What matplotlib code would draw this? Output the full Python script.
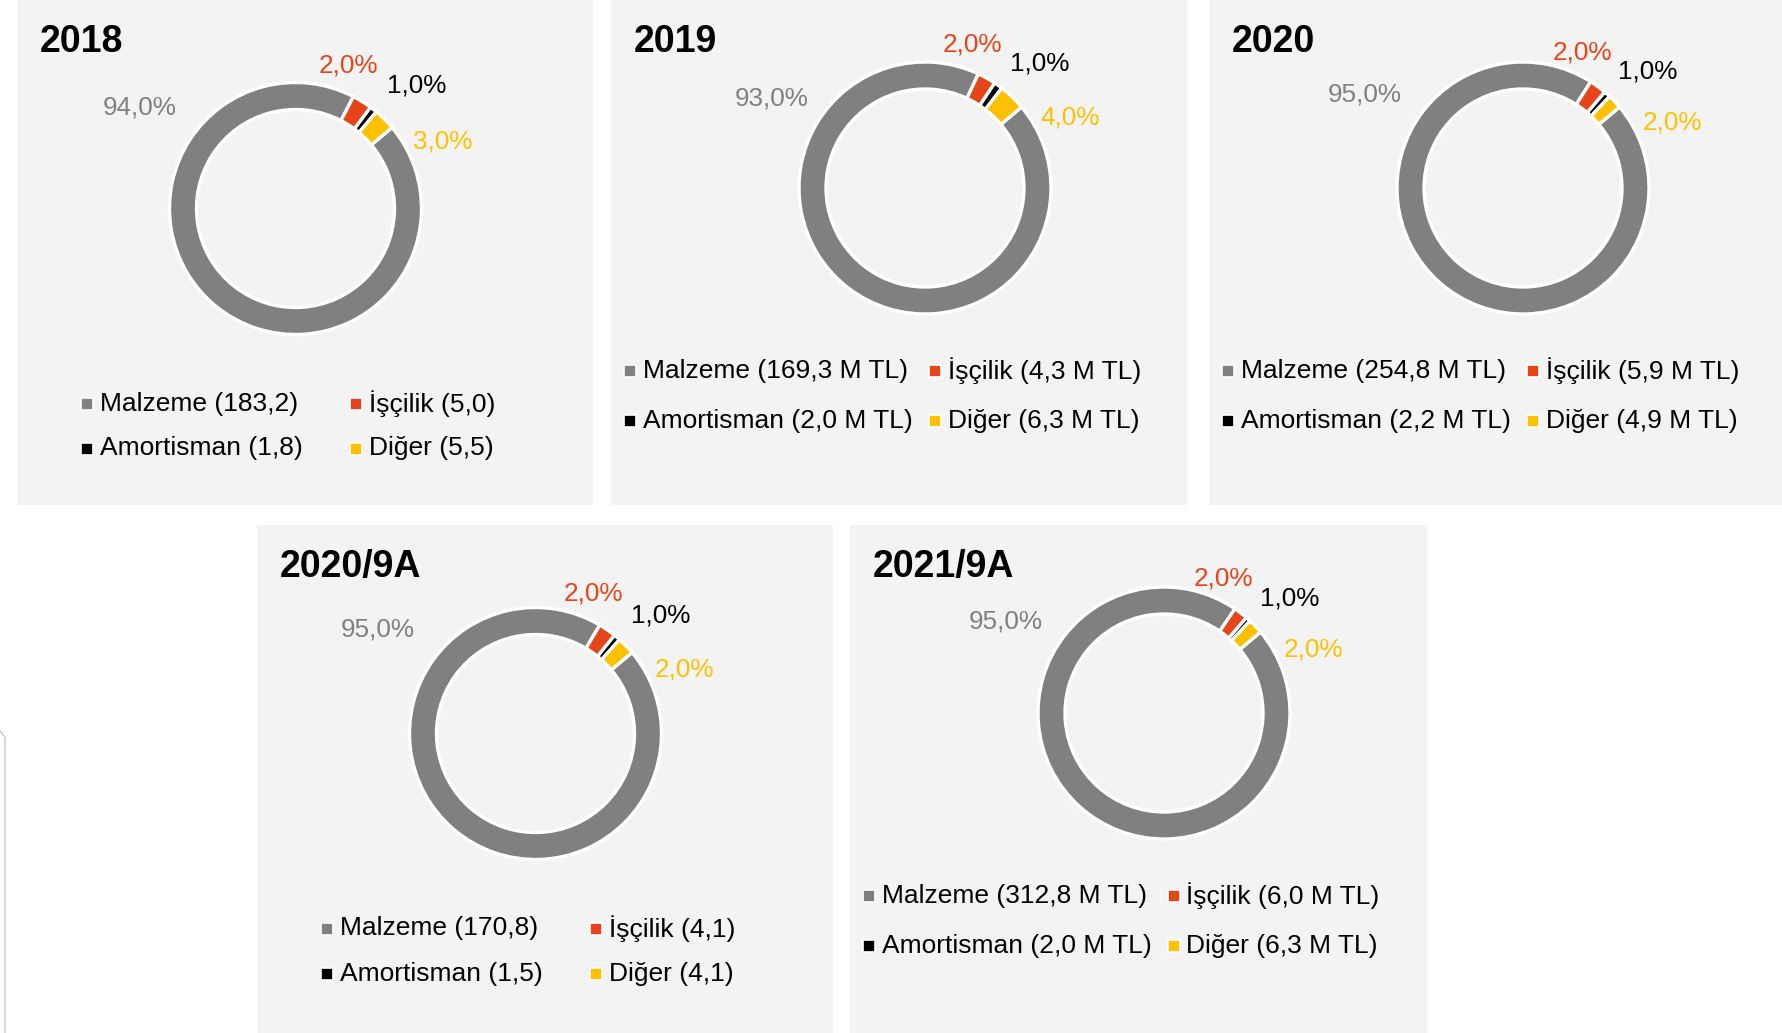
import numpy as np
import matplotlib
matplotlib.use('Agg')
import matplotlib.pyplot as plt
from matplotlib.lines import Line2D

plt.rcParams['font.family'] = ['Liberation Sans', 'DejaVu Sans']

# data (M TL) per period
periods = ['2018', '2019', '2020', '2020/9A', '2021/9A']
malzeme = [183.2, 169.3, 254.8, 170.8, 312.8]
iscilik = [5.0, 4.3, 5.9, 4.1, 6.0]
amortisman = [1.8, 2.0, 2.2, 1.5, 2.0]
diger = [5.5, 6.3, 4.9, 4.1, 6.3]

# percentages as printed on the chart
pct_malzeme = [94.0, 93.0, 95.0, 95.0, 95.0]
pct_iscilik = [2.0, 2.0, 2.0, 2.0, 2.0]
pct_amortisman = [1.0, 1.0, 1.0, 1.0, 1.0]
pct_diger = [3.0, 4.0, 2.0, 2.0, 2.0]

units = ['', ' M TL', ' M TL', '', ' M TL']
names = ['Malzeme', 'İşçilik', 'Amortisman', 'Diğer']
colors = ['#808080', '#E8441A', '#000000', '#FFC000']

W, H = 1782, 1033
fig = plt.figure(figsize=(W / 100, H / 100), dpi=100)
fig.patch.set_facecolor('white')

# panel boxes in pixels: x0, y0 (from top), width, height
boxes = [(17, 0, 576, 505), (611, 0, 576, 505), (1209, 0, 573, 505),
         (257, 525, 576, 508), (850, 525, 577, 508)]

short = {'c': (278.5, 208.5), 'rows': (403.5, 448.5), 'cols': ((70, 83), (339, 352))}
long_ = {'c': (314, 188), 'rows': (371, 421), 'cols': ((19, 32), (323.5, 336.5))}
layouts = [short, long_, long_, short, long_]

# label offsets from donut centre (px, y up), one set per panel
lbl_off = [[(-156, 103), (53, 145), (121, 125), (147, 68)],
           [(-153, 91), (47, 145), (115, 126), (145, 72)],
           [(-158, 95), (59, 137), (125, 118), (149, 67)],
           [(-158, 106), (58, 141), (125, 119), (149, 66)],
           [(-158, 93), (59, 136), (126, 116), (149, 65)]]

R, ring = 126, 27


def fmt(v):
    return f'{v:.1f}'.replace('.', ',')


for i, (x0, y0, w, h) in enumerate(boxes):
    ax = fig.add_axes([x0 / W, 1 - (y0 + h) / H, w / W, h / H])
    ax.set_facecolor('#F3F3F3')
    lay = layouts[i]
    cx, cy = lay['c'][0], -lay['c'][1]

    vals = [malzeme[i], iscilik[i], amortisman[i], diger[i]]
    ax.pie(vals, colors=colors, startangle=40, counterclock=False,
           center=(cx, cy), radius=R, frame=True,
           wedgeprops=dict(width=ring, edgecolor='white', linewidth=2.4))

    pcts = [pct_malzeme[i], pct_iscilik[i], pct_amortisman[i], pct_diger[i]]
    for k, p in enumerate(pcts):
        dx, dy = lbl_off[i][k]
        ax.text(cx + dx, cy + dy - 1.5, fmt(p) + '%',
                ha='center', va='center', fontsize=18.8, color=colors[k])

    ax.text(23, -52, periods[i], ha='left', va='baseline', fontsize=27,
            fontweight='bold', color='black')

    # legend: row 1 Malzeme, İşçilik ; row 2 Amortisman, Diğer
    entries = [(0, 0, 0), (1, 0, 1), (2, 1, 0), (3, 1, 1)]
    for k, r, c in entries:
        yy = -lay['rows'][r]
        mx, tx = lay['cols'][c]
        ax.plot([mx], [yy], marker='s', ms=8, mfc=colors[k], mec='white',
                mew=1.2, ls='none')
        ax.text(tx, yy, f'{names[k]} ({fmt(vals[k])}{units[i]})',
                ha='left', va='center', fontsize=19, color='black')

    ax.set_xlim(0, w)
    ax.set_ylim(-h, 0)
    ax.set_aspect('auto')
    ax.set_xticks([])
    ax.set_yticks([])
    for s in ax.spines.values():
        s.set_visible(False)

# thin edge line at the lower left
fig.add_artist(Line2D(np.array([0, 5, 5]) / W, 1 - np.array([731, 737, 1033]) / H,
                      color='#C8C8C8', lw=1, transform=fig.transFigure))

plt.savefig('out.png', dpi=100, facecolor='white')
